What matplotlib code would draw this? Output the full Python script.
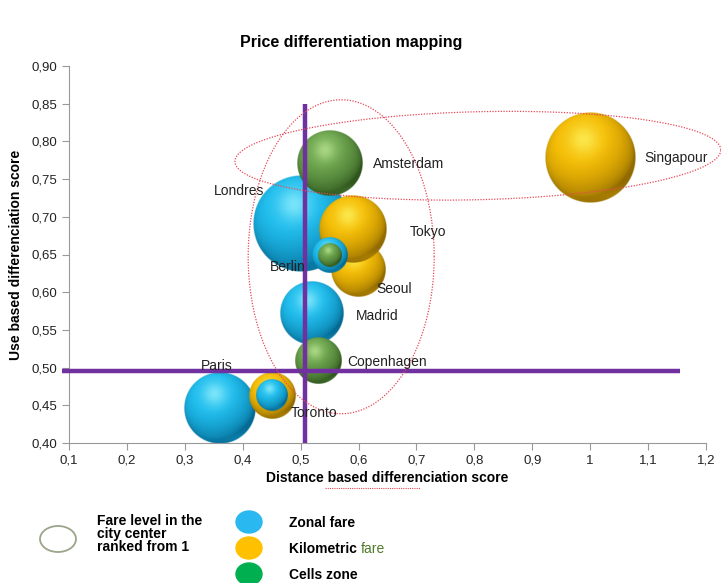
# Price differentiation mapping - bubble chart with shaded spheres

import numpy as np
import matplotlib
matplotlib.use("Agg")
from matplotlib import pyplot as plt
from matplotlib.patches import Ellipse

plt.rcParams['font.family'] = ['Liberation Sans', 'DejaVu Sans']

# Data

cities = ["Londres", "Paris", "Madrid", "Seoul", "Tokyo", "Singapour",
          "Amsterdam", "Copenhagen", "Toronto", "Toronto", "Berlin", "Berlin"]
distance_score = [0.50, 0.36, 0.52, 0.60, 0.59, 1.00, 0.55, 0.53, 0.45, 0.45, 0.55, 0.55]
use_score = [0.69, 0.446, 0.572, 0.63, 0.684, 0.778, 0.771, 0.509, 0.463, 0.463, 0.649, 0.649]
fare_level = [10.0, 5.5, 4.4, 3.2, 5.0, 8.8, 4.7, 2.3, 2.3, 1.1, 1.4, 0.6]
fare_type = ["zonal", "zonal", "zonal", "km", "km", "km",
             "cells", "cells", "km", "zonal", "zonal", "cells"]
show_label = [True, True, True, True, True, True, True, True, True, False, True, False]

x_ticks = [0.1, 0.2, 0.3, 0.4, 0.5, 0.6, 0.7, 0.8, 0.9, 1.0, 1.1, 1.2]
x_tick_labels = ["0,1", "0,2", "0,3", "0,4", "0,5", "0,6", "0,7", "0,8", "0,9", "1", "1,1", "1,2"]
y_ticks = [0.40, 0.45, 0.50, 0.55, 0.60, 0.65, 0.70, 0.75, 0.80, 0.85, 0.90]
y_tick_labels = ["0,40", "0,45", "0,50", "0,55", "0,60", "0,65", "0,70", "0,75", "0,80", "0,85", "0,90"]

distance_threshold = 0.507
use_threshold = 0.495

legend_types = ["Zonal fare", "Kilometric ", "Cells zone"]

# label offsets in pixels (dx, dy), alignment
label_offsets = {
    "Londres": (-36, 33, "right"),
    "Paris": (-3, 42, "center"),
    "Madrid": (44, -3, "left"),
    "Seoul": (18, -19, "left"),
    "Tokyo": (57, -3, "left"),
    "Singapour": (54, 0, "left"),
    "Amsterdam": (43, -1, "left"),
    "Copenhagen": (29, -1, "left"),
    "Toronto": (19, -18, "left"),
    "Berlin": (-60, -12, "left"),
}

# base, dark, highlight
colours = {
    "zonal": ((0.12, 0.74, 0.93), (0.00, 0.36, 0.52), (0.62, 0.96, 1.00)),
    "km": ((0.96, 0.74, 0.02), (0.50, 0.36, 0.00), (1.00, 0.97, 0.40)),
    "cells": ((0.42, 0.64, 0.30), (0.14, 0.28, 0.08), (0.76, 0.92, 0.60)),
}

# Figure geometry (pixels)

W, H = 721, 583
ax_left, ax_right, ax_top, ax_bottom = 69, 706, 66, 443
xmin, xmax, ymin, ymax = 0.1, 1.2, 0.40, 0.90
px_x = (ax_right - ax_left) / (xmax - xmin)
px_y = (ax_bottom - ax_top) / (ymax - ymin)

fig = plt.figure(figsize=(W / 100, H / 100), dpi=100)
ax = fig.add_axes([ax_left / W, 1 - ax_bottom / H, (ax_right - ax_left) / W, (ax_bottom - ax_top) / H])


# Builds an RGBA image of a shaded sphere

def sphere_image(base, dark, light, n=220):
    u = np.linspace(-1, 1, n)
    U, V = np.meshgrid(u, -u)
    r = np.sqrt(U**2 + V**2)
    Z = np.sqrt(np.clip(1 - r**2, 0, 1))
    L = np.array([-0.25, 0.50, 0.83])
    L = L / np.linalg.norm(L)
    diff = np.clip(U * L[0] + V * L[1] + Z * L[2], 0, 1)
    shade = np.clip(0.15 + 0.95 * diff ** 0.7, 0, 1)
    spot = np.exp(-((U + 0.15)**2 + (V - 0.40)**2) / 0.12)
    rim = np.exp(-((V + 0.82)**2) / 0.03) * np.clip(r - 0.5, 0, 1) * 0.5
    img = np.zeros((n, n, 4))
    for c in range(3):
        col = dark[c] + (base[c] - dark[c]) * shade
        col = col + (light[c] - col) * spot * 0.7
        col = col + (base[c] - col) * rim
        img[:, :, c] = np.clip(col, 0, 1)
    img[:, :, 3] = np.clip((1 - r) * n / 2.5, 0, 1)
    return img


# Draws the bubbles

for i in range(len(cities)):
    rad = 48 * np.sqrt(fare_level[i] / 10.0)
    hw = rad / px_x
    hh = rad / px_y
    base, dark, light = colours[fare_type[i]]
    img = sphere_image(base, dark, light)
    x = distance_score[i]
    y = use_score[i]
    ax.imshow(img, extent=[x - hw, x + hw, y - hh, y + hh], aspect='auto',
              interpolation='bilinear', zorder=2 + i * 0.01)

    if show_label[i]:
        dx, dy, ha = label_offsets[cities[i]]
        ax.annotate(cities[i], (x, y), xytext=(dx, dy), textcoords='offset pixels',
                    ha=ha, va='center', fontsize=10, color='#222222', zorder=7)

# Threshold lines

ax.plot([distance_threshold, distance_threshold], [0.40, 0.85], color='#7030A0', lw=3.2,
        zorder=5, clip_on=False, solid_capstyle='butt')
ax.plot([0.088, 1.155], [use_threshold, use_threshold], color='#7030A0', lw=3.2,
        zorder=5, clip_on=False, solid_capstyle='butt')


# Dotted ellipses drawn in pixel space

def pixel_ellipse(cx, cy, a, b, angle):
    t = np.linspace(0, 2 * np.pi, 400)
    th = np.radians(angle)
    px = a * np.cos(t) * np.cos(th) - b * np.sin(t) * np.sin(th)
    py = a * np.cos(t) * np.sin(th) + b * np.sin(t) * np.cos(th)
    ax.plot(cx + px / px_x, cy + py / px_y, color='#E84855', lw=0.9, ls=(0, (1, 1.2)),
            zorder=6, clip_on=False)


pixel_ellipse(0.806, 0.781, 243, 44, 1.4)
pixel_ellipse(0.570, 0.647, 93, 157, 0)

# Axes styling

ax.set_xlim(xmin, xmax)
ax.set_ylim(ymin, ymax)
ax.set_xticks(x_ticks)
ax.set_xticklabels(x_tick_labels)
ax.set_yticks(y_ticks)
ax.set_yticklabels(y_tick_labels)
for s in ['top', 'right']:
    ax.spines[s].set_visible(False)
for s in ['left', 'bottom']:
    ax.spines[s].set_color('#999999')
ax.tick_params(colors='#999999', labelcolor='#222222', labelsize=9.5, length=5, direction='out')
ax.set_xlabel("Distance based differenciation score", fontsize=10, fontweight='bold', labelpad=3)
ax.set_ylabel("Use based differenciation score", fontsize=10, fontweight='bold', labelpad=6)

fig.text(351 / W, 1 - 42 / H, "Price differentiation mapping", ha='center', va='center',
         fontsize=11.5, fontweight='bold')

# Legend in pixel coordinates

lg = fig.add_axes([0, 0, 1, 1])
lg.set_xlim(0, W)
lg.set_ylim(H, 0)
lg.axis('off')

lg.plot([325, 420], [488, 488], color='#E84855', lw=0.8, ls=(0, (1, 1)))

lg.add_patch(Ellipse((58, 539), 36, 26, fill=False, edgecolor='#9AA58A', lw=1.3))
lg.text(97, 514, "Fare level in the\ncity center\nranked from 1", fontsize=10, fontweight='bold',
        va='top', ha='left', linespacing=0.9)

legend_colours = ['#29B8F0', '#FFC000', '#00B050']
legend_y = [522, 548, 574]
for k in range(3):
    lg.add_patch(Ellipse((249, legend_y[k]), 26, 22, color=legend_colours[k]))
    t = lg.text(289, legend_y[k] + 1, legend_types[k], fontsize=10, fontweight='bold',
                va='center', ha='left')
    if k == 1:
        fig.canvas.draw()
        bb = t.get_window_extent()
        lg.text(289 + bb.width, legend_y[k] + 1, "fare", fontsize=10, color='#4F7A28',
                va='center', ha='left')

fig.savefig("out.png", dpi=100)
